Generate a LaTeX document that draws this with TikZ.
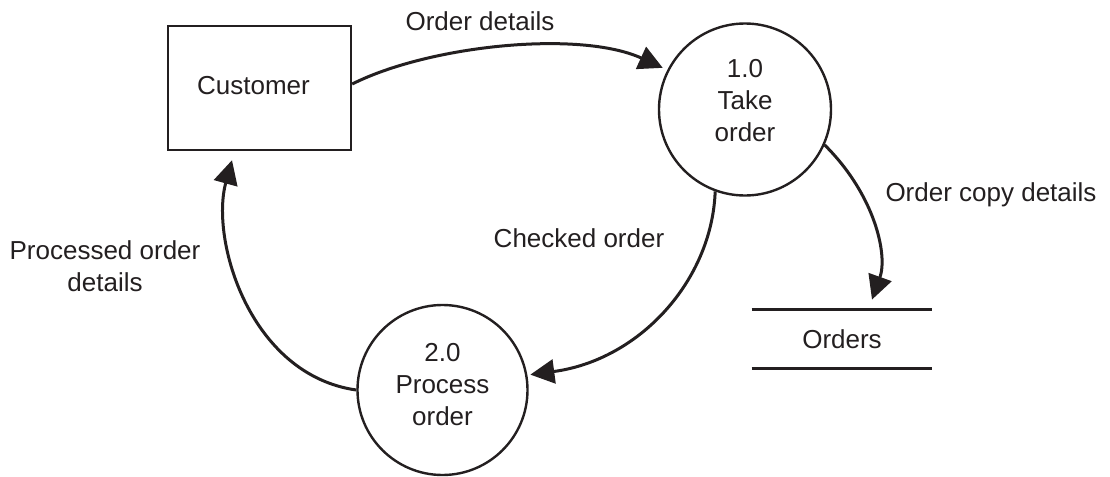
\documentclass[tikz,border=0pt]{standalone}
\usepackage{fontspec}
\setmainfont{Liberation Sans}
\usetikzlibrary{arrows.meta}
\definecolor{ink}{HTML}{231F20}
\begin{document}
\begin{tikzpicture}[x=0.5pt,y=-0.5pt,
  every node/.style={font=\fontsize{13}{16}\selectfont, text=ink},
  entity/.style={draw=ink, line width=1.2pt, minimum width=91.5pt, minimum height=62pt, inner sep=0pt},
  process/.style={draw=ink, line width=1.2pt, circle, minimum size=86pt, align=center, inner sep=0pt},
  store/.style={minimum width=90pt, minimum height=29pt, inner sep=0pt},
  storeline/.style={draw=ink, line width=1.2pt},
  flow/.style={draw=ink, line width=1.5pt, -{Triangle[length=12pt,width=12pt]}},
  flowlabel/.style={align=center}]
\useasboundingbox (0,0) rectangle (1110,477);

\node[entity] (cust) at (259.5,88) {\raisebox{2.5pt}{Customer}\hspace*{6pt}};
\node[process] (p1) at (745,109.5) {1.0\\Take\\order\rule[-9pt]{0pt}{0pt}};
\node[process, minimum size=85pt] (p2) at (442.5,390) {2.0\\Process\\order\rule[-6pt]{0pt}{0pt}};
\node[store] (st) at (842,339) {Orders};
\draw[storeline] (st.north west) -- (st.north east);
\draw[storeline] (st.south west) -- (st.south east);

\draw[flow, shorten >=2.5pt] ([yshift=2pt]cust.east) .. controls (430,45) and (580,30) .. (p1.153);
\draw[flow] (p1.-24) .. controls (875,195) and (888,255) .. ([xshift=15pt,yshift=5pt]st.north);
\draw[flow, shorten >=1.5pt] (p1.250) .. controls (712,280) and (640,360) .. (p2.10);
\draw[flow] (p2.180) .. controls (250,375) and (210,240) .. ([xshift=-13.75pt,yshift=-4.5pt]cust.south);

\node[flowlabel] (l1) at (480,21) {Order details};
\node[flowlabel] (l2) at (991,195) {Order copy details};
\node[flowlabel] (l3) at (579,238) {Checked order};
\node[flowlabel] (l4) at (105,266.5) {Processed order\\details};
\end{tikzpicture}
\end{document}
